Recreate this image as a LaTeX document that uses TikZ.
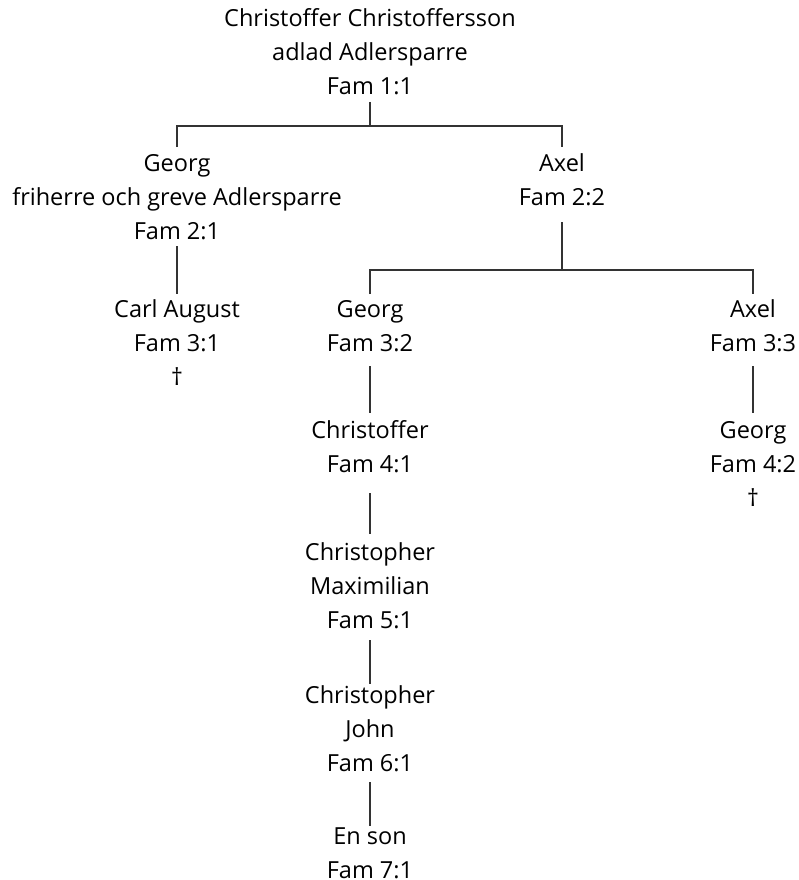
\documentclass[tikz,border=0pt]{standalone}
\usepackage{fontspec}
\setmainfont{Open Sans}
\begin{document}
\begin{tikzpicture}[x=1pt,y=-1pt,
  person/.style={anchor=base,align=center,inner sep=0pt,font=\fontsize{23.5}{34}\selectfont},
  link/.style={draw=black!80,line width=1.3pt}]
\useasboundingbox (0,0) rectangle (798,880);
\node[person] (root) at (370,95) {Christoffer Christoffersson\\adlad Adlersparre\\Fam 1:1};
\node[person] (g2) at (177,239) {Georg\\friherre och greve Adlersparre\\Fam 2:1};
\node[person] (a2) at (562,205) {Axel\\Fam 2:2};
\node[person] (c3) at (177,385) {Carl August\\Fam 3:1\\†};
\node[person] (g3) at (370,351) {Georg\\Fam 3:2};
\node[person] (a3) at (753,351) {Axel\\Fam 3:3};
\node[person] (c4) at (370,472) {Christoffer\\Fam 4:1};
\node[person] (g4) at (753,506) {Georg\\Fam 4:2\\†};
\node[person] (cm5) at (370,628) {Christopher\\Maximilian\\Fam 5:1};
\node[person] (cj6) at (370,771) {Christopher\\John\\Fam 6:1};
\node[person] (s7) at (370,878) {En son\\Fam 7:1};
% connectors
\draw[link] (root.base |- 0,102) -- (root.base |- 0,126);
\draw[link] (g2.base |- 0,147) -- (g2.base |- 0,126) -- (a2.base |- 0,126) -- (a2.base |- 0,147);
\draw[link] (g2.base |- 0,246) -- (c3.base |- 0,294);
\draw[link] (a2.base |- 0,222) -- (a2.base |- 0,270);
\draw[link] (g3.base |- 0,294) -- (g3.base |- 0,270) -- (a3.base |- 0,270) -- (a3.base |- 0,294);
\draw[link] (g3.base |- 0,366) -- (c4.base |- 0,413);
\draw[link] (a3.base |- 0,366) -- (g4.base |- 0,413);
\draw[link] (c4.base |- 0,493) -- (cm5.base |- 0,534);
\draw[link] (cm5.base |- 0,640) -- (cj6.base |- 0,684);
\draw[link] (cj6.base |- 0,782) -- (s7.base |- 0,826);
\end{tikzpicture}
\end{document}
